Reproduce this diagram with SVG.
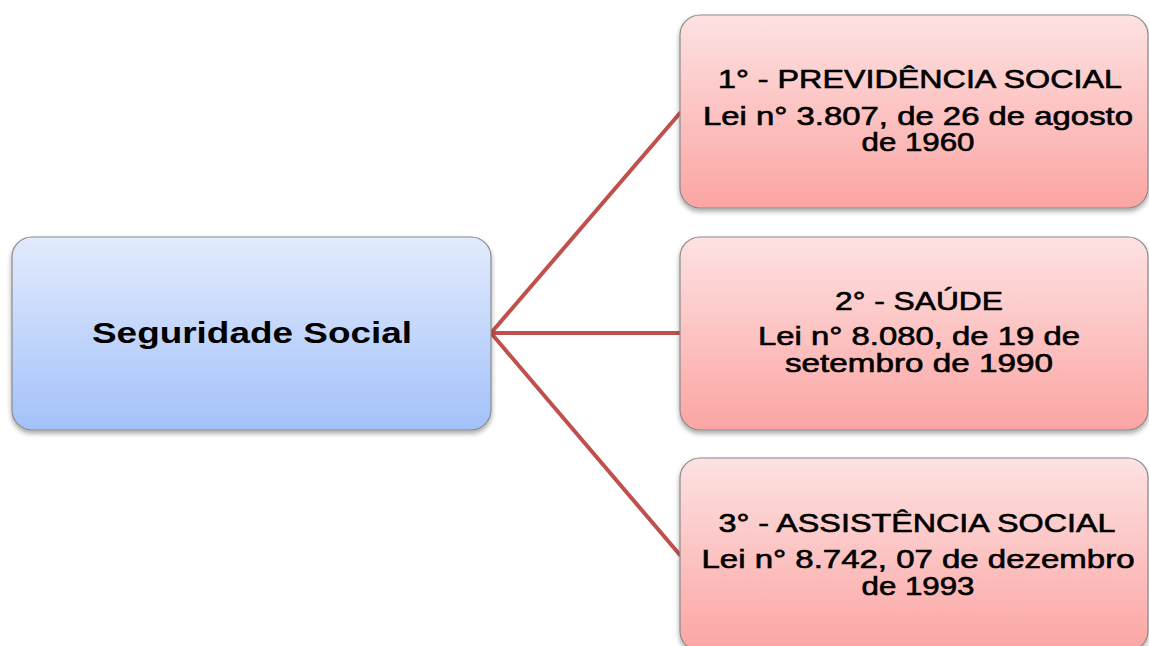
<svg xmlns="http://www.w3.org/2000/svg" width="1149" height="646" viewBox="0 0 1149 646">
<defs>
<linearGradient id="gBlue" x1="0" y1="0" x2="0" y2="1">
<stop offset="0" stop-color="#E2EBFC"/>
<stop offset="1" stop-color="#A3C1FA"/>
</linearGradient>
<linearGradient id="gPink" x1="0" y1="0" x2="0" y2="1">
<stop offset="0" stop-color="#FDE2E2"/>
<stop offset="1" stop-color="#FBA5A3"/>
</linearGradient>
<filter id="sh" x="-10%" y="-10%" width="120%" height="130%">
<feDropShadow dx="0" dy="3" stdDeviation="2.5" flood-color="#000" flood-opacity="0.35"/>
</filter>
</defs>
<style>
.box{stroke:#8a8a8a;stroke-width:1.2;filter:url(#sh)}
.blue{fill:url(#gBlue)}
.pink{fill:url(#gPink)}
.t{font-family:"Liberation Sans",Arial,sans-serif;fill:#000;text-anchor:middle}
.main{font-size:29px;font-weight:bold}
.lbl{font-size:25px;stroke:#000;stroke-width:0.6}
.conn{stroke:#C0504D;stroke-width:4;fill:none;stroke-linecap:round}
</style>
<rect width="1149" height="646" fill="#fff"/>
<g id="connectors">
<line class="conn" x1="491" y1="333" x2="680" y2="113"/>
<line class="conn" x1="491" y1="333" x2="680" y2="333"/>
<line class="conn" x1="491" y1="333" x2="680" y2="555"/>
</g>
<g id="seguridade">
<rect class="box blue" x="12" y="237" width="479" height="193" rx="20"/>
<text class="t main" x="252" y="343" textLength="320" lengthAdjust="spacingAndGlyphs">Seguridade Social</text>
</g>
<g id="previdencia">
<rect class="box pink" x="680" y="15" width="468" height="193" rx="20"/>
<text class="t lbl" x="920" y="88" textLength="404" lengthAdjust="spacingAndGlyphs">1° - PREVIDÊNCIA SOCIAL</text>
<text class="t lbl" x="918" y="125" textLength="430" lengthAdjust="spacingAndGlyphs">Lei n° 3.807, de 26 de agosto</text>
<text class="t lbl" x="918" y="151" textLength="113" lengthAdjust="spacingAndGlyphs">de 1960</text>
</g>
<g id="saude">
<rect class="box pink" x="680" y="237" width="468" height="193" rx="20"/>
<text class="t lbl" x="919" y="310" textLength="168" lengthAdjust="spacingAndGlyphs">2° - SAÚDE</text>
<text class="t lbl" x="919" y="345" textLength="322" lengthAdjust="spacingAndGlyphs">Lei n° 8.080, de 19 de</text>
<text class="t lbl" x="919" y="372" textLength="268" lengthAdjust="spacingAndGlyphs">setembro de 1990</text>
</g>
<g id="assistencia">
<rect class="box pink" x="680" y="458" width="468" height="193" rx="20"/>
<text class="t lbl" x="917" y="532" textLength="397" lengthAdjust="spacingAndGlyphs">3° - ASSISTÊNCIA SOCIAL</text>
<text class="t lbl" x="918" y="568" textLength="433" lengthAdjust="spacingAndGlyphs">Lei n° 8.742, 07 de dezembro</text>
<text class="t lbl" x="918" y="595" textLength="113" lengthAdjust="spacingAndGlyphs">de 1993</text>
</g>
</svg>
